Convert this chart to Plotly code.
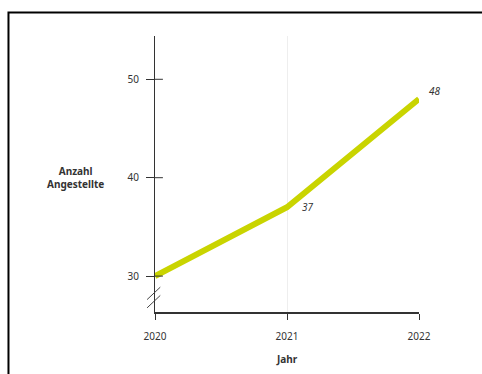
import plotly.graph_objects as go

# Mitarbeiterzahl pro Jahr
jahre = [2020, 2021, 2022]
angestellte = [30, 37, 48]
beschriftete_jahre = [2021, 2022]
y_ticks = [30, 40, 50]

FONT = "Noto Sans"
TEXT = "#333333"

fig = go.Figure()
fig.add_trace(go.Scatter(
    x=jahre, y=angestellte,
    mode="lines",
    line=dict(color="#c9d400", width=6),
    showlegend=False,
    hoverinfo="skip",
))

# value labels beside the line points
label_shift = {2021: (21, 0), 2022: (16, 8)}
for j, v in zip(jahre, angestellte):
    if j in beschriftete_jahre:
        dx, dy = label_shift[j]
        fig.add_annotation(x=j, y=v, xref="x", yref="y", text=str(v),
                           showarrow=False, xshift=dx, yshift=dy,
                           font=dict(family=FONT, size=10, color=TEXT, style="italic"))

# cross-shaped ticks: add the inner half of each y tick
for v in y_ticks:
    fig.add_shape(type="line", xref="paper", yref="y",
                  x0=0, x1=0.03, y0=v, y1=v,
                  line=dict(color="#333333", width=1))

# axis break marks near the bottom of the y axis
for dy in (0, 0.03):
    fig.add_shape(type="line", xref="paper", yref="paper",
                  x0=-0.03, x1=0.02, y0=0.015 + dy, y1=0.06 + dy,
                  line=dict(color="#444444", width=1))

# outer frame
fig.add_shape(type="rect", xref="paper", yref="paper",
              x0=-0.555, x1=1.3, y0=-0.3, y1=1.085,
              line=dict(color="#000000", width=2), fillcolor="rgba(0,0,0,0)")

fig.add_annotation(text="<b>Anzahl<br>Angestellte</b>", xref="paper", yref="y",
                   x=-0.3, y=40, xanchor="center", showarrow=False,
                   font=dict(family=FONT, size=10, color=TEXT), align="center")
fig.add_annotation(text="<b>Jahr</b>", xref="paper", yref="paper",
                   x=0.5, y=-0.17, xanchor="center", yanchor="middle",
                   showarrow=False,
                   font=dict(family=FONT, size=10, color=TEXT))

fig.update_xaxes(
    range=[2020, 2022], tickvals=jahre, ticktext=[str(j) for j in jahre],
    showgrid=True, gridcolor="#eeeeee", gridwidth=1,
    showline=True, linecolor="#333333", linewidth=1.5,
    ticks="outside", ticklen=6, tickcolor="#333333",
    ticklabelstandoff=8,
    tickfont=dict(family=FONT, size=10, color=TEXT),
    zeroline=False, fixedrange=True,
)
fig.update_yaxes(
    range=[26.35, 54.4], tickvals=y_ticks,
    showgrid=False,
    showline=True, linecolor="#333333", linewidth=1,
    ticks="outside", ticklen=8, tickcolor="#333333",
    ticklabelstandoff=5,
    tickfont=dict(family=FONT, size=10, color=TEXT),
    zeroline=False, fixedrange=True,
)

fig.update_layout(
    width=482, height=374,
    margin=dict(l=155, r=63, t=36, b=62),
    paper_bgcolor="white", plot_bgcolor="white",
    font=dict(family=FONT, size=10, color=TEXT),
)

fig.write_html("out.html", config={"displayModeBar": False})
